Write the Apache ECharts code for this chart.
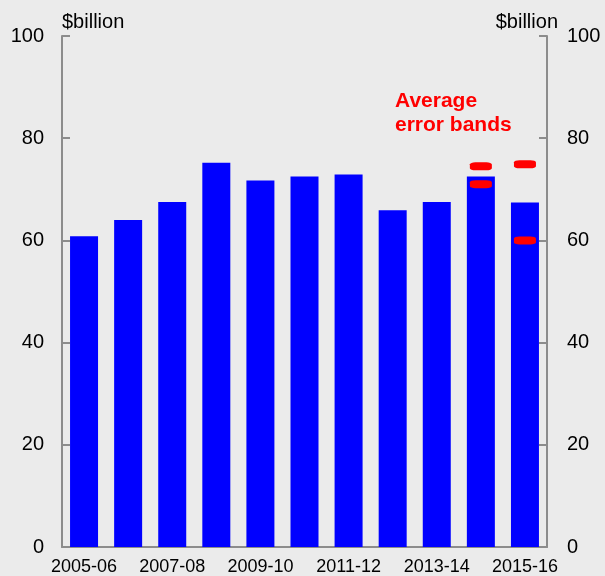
<!DOCTYPE html>
<html><head><meta charset="utf-8">
<script src="https://cdn.jsdelivr.net/npm/echarts@6/dist/echarts.min.js"></script>
<style>html,body{margin:0;padding:0;background:#ebebeb;}#c{width:605px;height:576px;}</style>
</head><body><div id="c"></div>
<script>
const categories = ['2005-06','2006-07','2007-08','2008-09','2009-10','2010-11','2011-12','2012-13','2013-14','2014-15','2015-16'];
const values = [60.8, 64.0, 67.5, 75.2, 71.7, 72.5, 72.9, 65.9, 67.5, 72.5, 67.4];
const errorUpper = [null, null, null, null, null, null, null, null, null, 74.5, 74.9];
const errorLower = [null, null, null, null, null, null, null, null, null, 71.0, 60.0];
const yTicks = [0, 20, 40, 60, 80, 100];

const chart = echarts.init(document.getElementById('c'));
const font = 'Liberation Sans, Arial, sans-serif';
const axisGray = '#8c8c8c';
chart.setOption({
  backgroundColor: '#ebebeb',
  animation: false,
  grid: {left: 62, right: 58, top: 36, bottom: 27},
  xAxis: {
    type: 'category', data: categories,
    axisLine: {lineStyle: {color: axisGray, width: 2}},
    axisTick: {inside: true, length: 7, lineStyle: {color: axisGray, width: 2},
      interval: function(i){ return i % 4 === 0 && i > 0; }},
    axisLabel: {interval: 1, color: '#000', fontSize: 18, fontFamily: font, margin: 11}
  },
  yAxis: [0, 1].map(i => ({
    type: 'value', min: yTicks[0], max: yTicks[yTicks.length - 1], interval: 20,
    position: i === 0 ? 'left' : 'right',
    splitLine: {show: false},
    axisLine: {show: true, lineStyle: {color: axisGray, width: 2}},
    axisTick: {show: true, inside: true, length: 8, lineStyle: {color: axisGray, width: 2}},
    axisLabel: {color: '#000', fontSize: 20, fontFamily: font, margin: i === 0 ? 18 : 20}
  })),
  graphic: [
    {type: 'text', left: 62, top: 12, style: {text: '$billion', fontSize: 20, fontFamily: font, fill: '#000'}},
    {type: 'text', right: 47, top: 12, style: {text: '$billion', fontSize: 20, fontFamily: font, fill: '#000'}},
    {type: 'text', left: 395, top: 89, style: {text: 'Average\nerror bands', fontSize: 21, fontWeight: 'bold', fontFamily: font, fill: '#ff0000', lineHeight: 24}}
  ],
  series: [
    {type: 'bar', data: values, barWidth: 28, itemStyle: {color: '#0000ff'}, yAxisIndex: 0},
    {type: 'scatter', data: errorUpper, symbol: 'roundRect', symbolSize: [22, 8], itemStyle: {color: '#ff0000', opacity: 1}, z: 5},
    {type: 'scatter', data: errorLower, symbol: 'roundRect', symbolSize: [22, 8], itemStyle: {color: '#ff0000', opacity: 1}, z: 5}
  ]
});
</script></body></html>
